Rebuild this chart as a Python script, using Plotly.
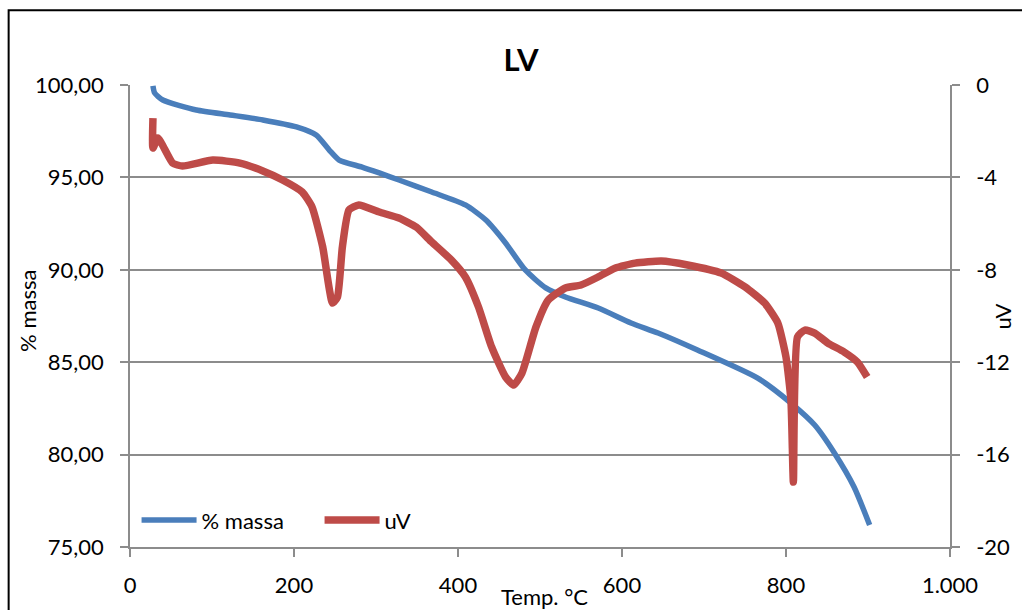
import plotly.graph_objects as go

# Thermogravimetric run "LV": mass loss (%) and DTA signal (uV) vs temperature
temp_massa = [28, 30, 40, 81, 122, 162, 203, 227, 243, 255, 283, 304, 328, 368,
              409, 434, 458, 482, 507, 531, 571, 611, 644, 692, 765, 806, 835,
              859, 883, 902]
massa = [99.95, 99.57, 99.19, 98.65, 98.38, 98.11, 97.73, 97.29, 96.48, 95.94,
         95.56, 95.24, 94.86, 94.21, 93.51, 92.69, 91.45, 89.99, 89.02, 88.53,
         87.93, 87.12, 86.58, 85.66, 84.15, 82.79, 81.60, 80.09, 78.25, 76.19]

temp_uv = [28, 28, 34, 52, 64, 101, 134, 162, 186, 210, 222, 235, 247, 253, 259,
           267, 279, 304, 328, 349, 368, 392, 409, 425, 441, 458, 468, 478, 495,
           510, 531, 550, 571, 592, 616, 648, 680, 721, 750, 774, 790, 800, 806,
           809, 814, 823, 835, 851, 871, 887, 899]
uv = [-1.43, -2.73, -2.29, -3.38, -3.51, -3.25, -3.38, -3.72, -4.11, -4.63,
      -5.28, -7.01, -9.44, -9.18, -7.01, -5.41, -5.19, -5.50, -5.76, -6.15,
      -6.80, -7.58, -8.31, -9.61, -11.34, -12.64, -12.99, -12.47, -10.48, -9.31,
      -8.79, -8.66, -8.31, -7.92, -7.71, -7.62, -7.79, -8.14, -8.74, -9.44,
      -10.30, -11.78, -13.64, -17.19, -10.91, -10.61, -10.74, -11.17, -11.56,
      -11.99, -12.64]

x_ticks = [0, 200, 400, 600, 800, 1000]
x_labels = ["0", "200", "400", "600", "800", "1.000"]
y_ticks = [75, 80, 85, 90, 95, 100]
y_labels = ["75,00", "80,00", "85,00", "90,00", "95,00", "100,00"]
y2_ticks = [0, -4, -8, -12, -16, -20]
y2_labels = ["0", "-4", "-8", "-12", "-16", "-20"]

BLUE = "#4a7ebb"
RED = "#be4b48"
GRID = "#8c8c8c"
FONT = "Lato"
FS = 22

fig = go.Figure()
fig.add_trace(go.Scatter(x=temp_massa, y=massa, name="% massa", mode="lines",
                         line=dict(color=BLUE, width=5.5, shape="spline",
                                   smoothing=0.6)))
fig.add_trace(go.Scatter(x=temp_uv, y=uv, name="uV", mode="lines", yaxis="y2",
                         line=dict(color=RED, width=7.5, shape="spline",
                                   smoothing=0.5)))

axis_common = dict(showline=True, linecolor=GRID, linewidth=1.5, ticks="outside",
                   tickcolor=GRID, ticklen=8, tickwidth=1.5,
                   tickfont=dict(family=FONT, size=FS, color="#000"))

fig.update_layout(
    width=1022, height=610,
    margin=dict(l=130, r=69, t=85, b=63),
    paper_bgcolor="white", plot_bgcolor="white",
    font=dict(family=FONT, color="#000"),
    title=dict(text="<b>LV</b>", x=521 / 1022, xref="container", xanchor="center",
               y=1 - 60 / 610, yanchor="middle",
               font=dict(family=FONT, size=31, color="#000")),
    xaxis=dict(range=[0, 1000], tickvals=x_ticks, ticktext=x_labels,
               showgrid=False, ticklabelstandoff=10, **axis_common),
    yaxis=dict(range=[75, 100], tickvals=y_ticks, ticktext=y_labels,
               showgrid=True, gridcolor=GRID, gridwidth=1.5,
               ticklabelstandoff=12, **axis_common),
    yaxis2=dict(range=[-20, 0], tickvals=y2_ticks, ticktext=y2_labels,
                overlaying="y", side="right", showgrid=False,
                ticklabelstandoff=12, **axis_common),
    showlegend=True,
    legend=dict(orientation="h", x=0.008, y=0.058, xanchor="left", yanchor="middle",
                bgcolor="rgba(0,0,0,0)", font=dict(family=FONT, size=FS),
                entrywidth=113, entrywidthmode="pixels", itemwidth=55),
    annotations=[
        dict(text="% massa", xref="paper", yref="paper", x=-0.125, y=0.51,
             textangle=-90, showarrow=False, xanchor="center", yanchor="middle",
             font=dict(family=FONT, size=FS)),
        dict(text="uV", xref="paper", yref="paper", x=1.064, y=0.50,
             textangle=-90, showarrow=False, xanchor="center", yanchor="middle",
             font=dict(family=FONT, size=FS)),
        dict(text="Temp. °C", xref="paper", yref="paper", x=0.505, y=-0.107,
             showarrow=False, xanchor="center", yanchor="middle",
             font=dict(family=FONT, size=FS)),
    ],
    shapes=[
        dict(type="rect", xref="paper", yref="paper", x0=-0.148, x1=1.12,
             y0=-0.2, y1=1.162, line=dict(color="#000", width=2),
             fillcolor="rgba(0,0,0,0)", layer="below"),
    ],
)

fig.write_html("out.html")
